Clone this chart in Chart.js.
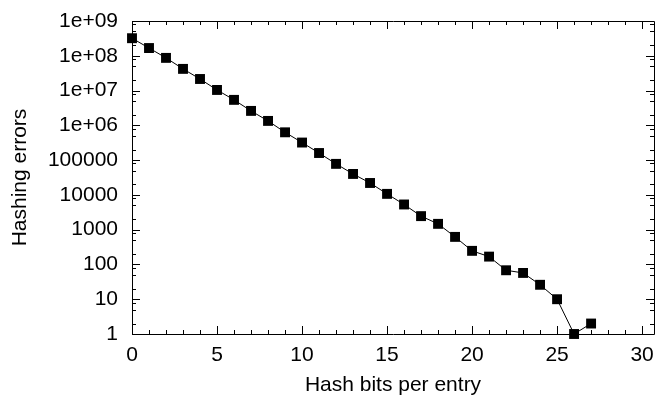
<!DOCTYPE html>
<html>
<head>
<meta charset="utf-8">
<script src="https://cdn.jsdelivr.net/npm/chart.js@4/dist/chart.umd.min.js"></script>
<style>
  html, body { margin: 0; padding: 0; background: #fff; }
  #wrap { width: 655px; height: 398px; position: relative; }
</style>
</head>
<body>
<div id="wrap"><canvas id="hashChart"></canvas></div>
<script>
// Данные графика
const bits = [0, 1, 2, 3, 4, 5, 6, 7, 8, 9, 10, 11, 12, 13, 14, 15, 16, 17, 18, 19, 20, 21, 22, 23, 24, 25, 26, 27];
const errors = [3.2e8, 1.67e8, 8.7e7, 4.2e7, 2.15e7, 1.04e7, 5.4e6, 2.6e6, 1.34e6, 6.3e5,
                3.2e5, 1.6e5, 7.8e4, 4.0e4, 2.2e4, 1.07e4, 5.3e3, 2.45e3, 1.47e3, 620,
                246, 168, 68, 57, 26, 10, 1, 2];
const xTickValues = [0, 5, 10, 15, 20, 25, 30];
const yTickValues = [1, 10, 100, 1000, 10000, 100000, 1e6, 1e7, 1e8, 1e9];
const yTickLabels = ['1', '10', '100', '1000', '10000', '100000', '1e+06', '1e+07', '1e+08', '1e+09'];
const yMinorSteps = [2, 5, 8];

const font = { family: '"Liberation Sans", Arial, sans-serif', size: 21 };

// Рамка и засечки внутрь, как в gnuplot
const frameTicks = {
    id: 'frameTicks',
    afterDraw(chart) {
        const { ctx, chartArea: a, scales: { x, y } } = chart;
        ctx.save();
        ctx.strokeStyle = '#000';
        ctx.lineWidth = 1;
        ctx.beginPath();
        ctx.rect(Math.round(a.left) + 0.5, Math.round(a.top) + 0.5,
                 Math.round(a.right - a.left), Math.round(a.bottom - a.top));
        ctx.stroke();

        ctx.beginPath();
        for (let i = 0; i <= 30; i++) {
            const px = Math.round(x.getPixelForValue(i)) + 0.5;
            const len = i % 5 === 0 ? 8 : 4;
            ctx.moveTo(px, a.bottom); ctx.lineTo(px, a.bottom - len);
            ctx.moveTo(px, a.top); ctx.lineTo(px, a.top + len);
        }
        yTickValues.forEach((v, i) => {
            const py = Math.round(y.getPixelForValue(v)) + 0.5;
            ctx.moveTo(a.left, py); ctx.lineTo(a.left + 8, py);
            ctx.moveTo(a.right, py); ctx.lineTo(a.right - 8, py);
            if (i < yTickValues.length - 1) {
                yMinorSteps.forEach(m => {
                    const pm = Math.round(y.getPixelForValue(v * m)) + 0.5;
                    ctx.moveTo(a.left, pm); ctx.lineTo(a.left + 4, pm);
                    ctx.moveTo(a.right, pm); ctx.lineTo(a.right - 4, pm);
                });
            }
        });
        ctx.stroke();
        ctx.restore();
    }
};

new Chart(document.getElementById('hashChart').getContext('2d'), {
    type: 'line',
    data: {
        datasets: [{
            data: bits.map((b, i) => ({ x: b, y: errors[i] })),
            borderColor: '#000',
            borderWidth: 1,
            backgroundColor: '#000',
            pointStyle: 'rect',
            pointRadius: 7,
            pointBorderWidth: 0,
            tension: 0,
            clip: false
        }]
    },
    options: {
        responsive: true,
        maintainAspectRatio: false,
        animation: false,
        layout: { autoPadding: false, padding: { top: 21, right: 1, left: 0, bottom: 0 } },
        plugins: { legend: { display: false }, tooltip: { enabled: false } },
        scales: {
            x: {
                type: 'linear',
                min: 0,
                max: 30.7,
                afterBuildTicks: s => { s.ticks = xTickValues.map(v => ({ value: v })); },
                afterFit: s => { s.height = 64; s.paddingLeft = 0; s.paddingRight = 0; },
                grid: { display: false, drawTicks: false },
                border: { display: false },
                ticks: { color: '#000', font, padding: 9, maxRotation: 0 },
                title: { display: true, text: 'Hash bits per entry', color: '#000', font, padding: { top: 0, bottom: 0 } }
            },
            y: {
                type: 'logarithmic',
                min: 1,
                max: 1e9,
                afterBuildTicks: s => { s.ticks = yTickValues.map(v => ({ value: v })); },
                afterFit: s => { s.width = 132; s.paddingTop = 0; s.paddingBottom = 0; },
                grid: { display: false, drawTicks: false },
                border: { display: false },
                ticks: {
                    color: '#000', font, padding: 14,
                    callback: (v) => yTickLabels[yTickValues.indexOf(v)]
                },
                title: { display: true, text: 'Hashing errors', color: '#000', font, padding: { bottom: 0, top: 8 } }
            }
        }
    },
    plugins: [frameTicks]
});
</script>
</body>
</html>
